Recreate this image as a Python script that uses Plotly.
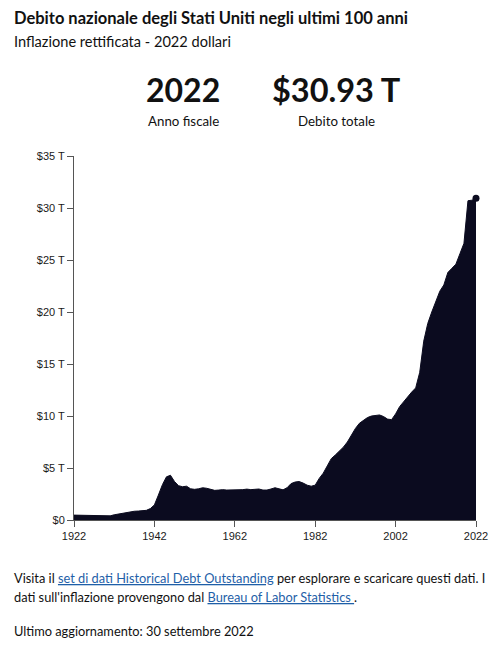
import plotly.graph_objects as go

years = list(range(1922, 2023))
debt = [
    0.47, 0.46, 0.44, 0.41, 0.39, 0.37, 0.36, 0.35, 0.36, 0.40,   # 1922-1931
    0.50, 0.58, 0.66, 0.71, 0.80, 0.84, 0.86, 0.90, 0.93, 1.10,   # 1932-1941
    1.45, 2.40, 3.40, 4.15, 4.30, 3.70, 3.30, 3.20, 3.25, 3.00,   # 1942-1951
    2.95, 3.00, 3.10, 3.05, 2.92, 2.85, 2.88, 2.92, 2.88, 2.88,   # 1952-1961
    2.92, 2.93, 2.92, 2.97, 2.92, 2.95, 2.98, 2.88, 2.88, 2.98,   # 1962-1971
    3.10, 3.00, 2.90, 3.10, 3.50, 3.65, 3.70, 3.55, 3.35, 3.25,   # 1972-1981
    3.35, 4.00, 4.50, 5.20, 5.90, 6.25, 6.60, 7.00, 7.50, 8.20,   # 1982-1991
    8.80, 9.30, 9.60, 9.85, 10.00, 10.05, 10.10, 9.95, 9.70, 9.65,  # 1992-2001
    10.20, 10.90, 11.40, 11.80, 12.30, 12.70, 14.20, 17.20, 18.90, 20.00,  # 2002-2011
    21.00, 22.00, 22.60, 23.80, 24.20, 24.60, 25.60, 26.60, 30.70, 30.75,  # 2012-2021
    30.93,  # 2022
]

y_ticks = [0, 5, 10, 15, 20, 25, 30, 35]
y_labels = ["$0", "$5 T", "$10 T", "$15 T", "$20 T", "$25 T", "$30 T", "$35 T"]
x_ticks = [1922, 1942, 1962, 1982, 2002, 2022]

fill_col = "#0b0b1f"
axis_col = "#555555"
text_font = "Lato"

# the page body has an 8px margin, so the figure is 8px smaller each way
W, H = 492, 640
OFF = 8
ML, MR, MT, MB = 66, 18, 148, 128

fig = go.Figure()
fig.add_trace(go.Scatter(
    x=years, y=debt, mode="lines", fill="tozeroy",
    line=dict(color=fill_col, width=1), fillcolor=fill_col,
    hoverinfo="skip", showlegend=False,
))
fig.add_trace(go.Scatter(
    x=[years[-1]], y=[debt[-1]], mode="markers",
    marker=dict(color=fill_col, size=7), cliponaxis=False,
    hoverinfo="skip", showlegend=False,
))

fig.update_xaxes(
    range=[1922, 2022], tickvals=x_ticks, showgrid=False, zeroline=False,
    showline=True, linecolor=axis_col, ticks="outside", ticklen=6,
    tickcolor=axis_col, tickfont=dict(family="Arial", size=11, color="#1a1a1a"),
)
fig.update_yaxes(
    range=[0, 35], tickvals=y_ticks, ticktext=y_labels, showgrid=False,
    zeroline=False, showline=True, linecolor=axis_col, ticks="outside",
    ticklen=6, tickcolor=axis_col,
    tickfont=dict(family="Arial", size=11, color="#1a1a1a"),
)

link = "<span style='color:#1f5fa8'><u>%s</u></span>"
# positions in screenshot pixels
annots = [
    dict(x=11, y=18, text="<b>Debito nazionale degli Stati Uniti negli ultimi 100 anni</b>",
         size=16.5, xanchor="left"),
    dict(x=11, y=41, text="Inflazione rettificata - 2022 dollari", size=14.6, xanchor="left"),
    dict(x=185, y=90, text="<b>2022</b>", size=32, xanchor="center"),
    dict(x=340, y=90, text="<b>$30.93 T</b>", size=32.5, xanchor="center"),
    dict(x=185, y=121, text="Anno fiscale", size=13.3, xanchor="center"),
    dict(x=340, y=121, text="Debito totale", size=13.3, xanchor="center"),
    dict(x=11, y=578,
         text="Visita il " + link % "set di dati Historical Debt Outstanding"
              + " per esplorare e scaricare questi dati. I",
         size=12.8, xanchor="left"),
    dict(x=11, y=597,
         text="dati sull'inflazione provengono dal " + link % "Bureau of Labor Statistics "
              + ".",
         size=12.8, xanchor="left"),
    dict(x=11, y=631, text="Ultimo aggiornamento: 30 settembre 2022", size=12.8, xanchor="left"),
]

plot_w = W - ML - MR
plot_h = H - MT - MB
for a in annots:
    px_x = a["x"] - OFF
    px_y = a["y"] - OFF
    fig.add_annotation(
        x=(px_x - ML) / plot_w, y=(H - MB - px_y) / plot_h,
        xref="paper", yref="paper",
        text=a["text"], showarrow=False, xanchor=a["xanchor"], yanchor="middle",
        font=dict(family=text_font, size=a["size"], color="#111"),
    )

fig.update_layout(
    width=W, height=H,
    margin=dict(l=ML, r=MR, t=MT, b=MB),
    paper_bgcolor="white", plot_bgcolor="white",
)

fig.write_html("out.html")
